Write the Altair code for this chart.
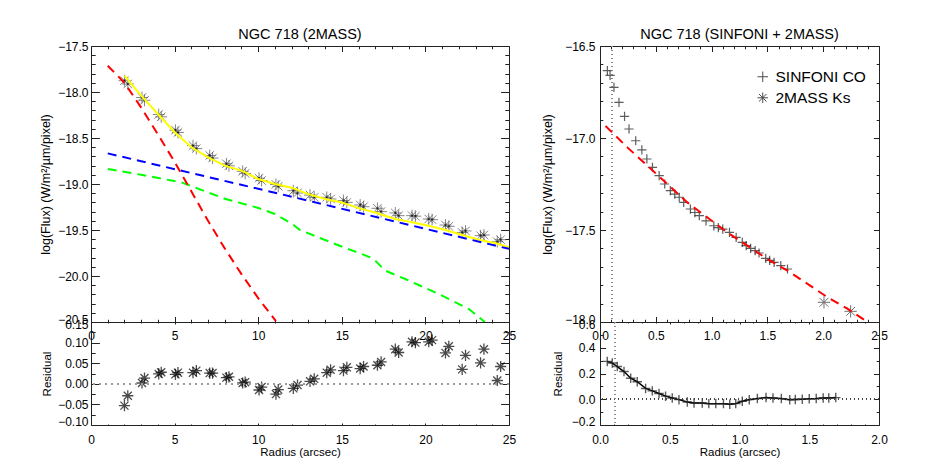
import altair as alt
import pandas as pd

FONT = "Liberation Sans"
INK = "#222222"

# ---------------- Left panel: NGC 718 (2MASS) ----------------
ks_r = [2.0, 2.2, 3.05, 3.2, 4.05, 4.2, 5.05, 5.2, 6.1, 6.3, 7.1, 7.27, 8.1, 8.25,
        9.07, 9.22, 10.05, 10.2, 11.06, 11.2, 12.1, 12.35, 13.1, 13.35, 14.1, 14.33,
        15.1, 15.3, 16.1, 16.3, 17.13, 17.35, 18.2, 18.4, 19.2, 19.4, 20.2, 20.4,
        21.2, 21.4, 22.2, 22.4, 23.3, 23.5, 24.3, 24.5]
ks_logf = [-17.877, -17.913, -18.06, -18.09, -18.245, -18.27, -18.415, -18.44,
           -18.583, -18.615, -18.69, -18.718, -18.78, -18.803, -18.862, -18.885,
           -18.937, -18.962, -19.005, -19.025, -19.073, -19.098, -19.12, -19.145,
           -19.145, -19.163, -19.18, -19.2, -19.228, -19.247, -19.264, -19.30,
           -19.315, -19.344, -19.344, -19.35, -19.38, -19.388, -19.446, -19.46,
           -19.527, -19.51, -19.562, -19.554, -19.627, -19.605]
ks_resid = [-0.053, -0.029, 0.002, 0.014, 0.024, 0.028, 0.023, 0.027, 0.027, 0.032,
            0.026, 0.026, 0.015, 0.017, 0.002, 0.004, -0.015, -0.008, -0.025, -0.014,
            -0.011, -0.003, 0.006, 0.012, 0.027, 0.034, 0.032, 0.040, 0.037, 0.042,
            0.045, 0.053, 0.084, 0.076, 0.102, 0.100, 0.102, 0.106, 0.075, 0.091,
            0.035, 0.069, 0.051, 0.084, 0.008, 0.042]

tot_r = [2.0, 3.0, 4.0, 5.0, 6.0, 7.0, 8.0, 9.0, 10.0, 11.0, 12.0, 13.0, 14.0, 15.0,
         16.0, 17.0, 17.4, 18.2, 19.2, 20.2, 21.2, 22.2, 23.2, 24.2, 25.0]
tot_v = [-17.823, -18.04, -18.239, -18.438, -18.601, -18.71, -18.80, -18.855, -18.946,
         -19.0, -19.04, -19.11, -19.163, -19.2, -19.262, -19.31, -19.335, -19.38,
         -19.416, -19.453, -19.5, -19.554, -19.605, -19.645, -19.688]

bul_r = [1.0, 2.0, 3.0, 4.0, 5.0, 6.0, 7.0, 8.0, 9.0, 10.0, 11.06]
bul_v = [-17.714, -17.90, -18.17, -18.46, -18.76, -19.08, -19.40, -19.70, -19.98,
         -20.24, -20.49]

disk_r = [1.0, 12.0, 25.0]
disk_v = [-18.667, -19.138, -19.705]

bar_r = [1.0, 3.0, 5.4, 8.0, 10.0, 11.0, 12.0, 12.5, 14.6, 16.7, 17.0, 17.6, 18.8,
         20.8, 22.6, 23.55]
bar_v = [-18.837, -18.90, -18.982, -19.16, -19.26, -19.326, -19.43, -19.50, -19.652,
         -19.797, -19.833, -19.942, -20.033, -20.196, -20.359, -20.50]

# ---------------- Right panel: NGC 718 (SINFONI + 2MASS) ----------------
sin_r = [0.066, 0.09, 0.125, 0.17, 0.22, 0.26, 0.32, 0.375, 0.42, 0.47, 0.53, 0.58,
         0.63, 0.67, 0.71, 0.75, 0.81, 0.85, 0.89, 0.95, 1.02, 1.06, 1.10, 1.16, 1.22,
         1.275, 1.31, 1.35, 1.39, 1.425, 1.485, 1.52, 1.56, 1.62, 1.68]
sin_v = [-16.634, -16.66, -16.725, -16.806, -16.882, -16.951, -17.015, -17.065,
         -17.114, -17.16, -17.205, -17.25, -17.286, -17.305, -17.322, -17.35, -17.386,
         -17.405, -17.422, -17.45, -17.477, -17.487, -17.495, -17.513, -17.54, -17.567,
         -17.585, -17.60, -17.612, -17.625, -17.654, -17.665, -17.676, -17.694, -17.712]

tm_r = [2.007, 2.246]
tm_v = [-17.893, -17.942]

mod_r = [0.05, 0.245, 0.424, 0.603, 0.782, 0.96, 1.14, 1.32, 1.5, 1.68, 1.86, 2.04,
         2.22, 2.38]
mod_v = [-16.935, -17.051, -17.15, -17.25, -17.35, -17.431, -17.513, -17.585, -17.658,
         -17.721, -17.793, -17.866, -17.929, -17.993]

res_r = [0.052, 0.088, 0.124, 0.172, 0.22, 0.267, 0.327, 0.375, 0.423, 0.47, 0.518,
         0.566, 0.626, 0.674, 0.733, 0.78, 0.83, 0.885, 0.93, 0.973, 1.02, 1.07, 1.128,
         1.19, 1.24, 1.30, 1.36, 1.40, 1.45, 1.50, 1.55, 1.60, 1.64, 1.69]
res_v = [0.294, 0.281, 0.254, 0.215, 0.163, 0.136, 0.084, 0.065, 0.045, 0.024, 0.010,
         -0.003, -0.021, -0.029, -0.029, -0.034, -0.034, -0.034, -0.039, -0.034, -0.016,
         -0.003, 0.005, 0.013, 0.010, 0.005, -0.003, -0.002, 0.0, 0.003, 0.005, 0.010,
         0.010, 0.013]

seeing_r = 0.11
zero_level = 0.0
series_names = ["SINFONI CO", "2MASS Ks"]

# axis ranges
left_x = [0, 25]
left_y = [-20.5, -17.5]
left_res_y = [-0.10, 0.15]
right_x = [0, 2.5]
right_y = [-18.0, -16.5]
right_res_x = [0, 2.0]
right_res_y = [-0.2, 0.6]

PLUS = "M-1,0L1,0M0,-1L0,1"
AST = "M-1,0L1,0M0,-1L0,1M-0.72,-0.72L0.72,0.72M-0.72,0.72L0.72,-0.72"

YTITLE = "log(Flux) (W/m\u00b2/\u00b5m/pixel)"


def tick_values(lo, hi, step):
    n = int(round((hi - lo) / step))
    return [round(lo + i * step, 6) for i in range(n + 1)]


def make_axis(orient, dom, major, minor, length, fmt=".1f", labels=True, title=None,
              title_size=12, title_pad=6, label_gap=3, end_shift=None):
    k = round(1.0 / major, 6)
    test = f"abs(datum.value * {k} - round(datum.value * {k})) < 0.000001"
    kw = dict(
        orient=orient,
        values=tick_values(dom[0], dom[1], minor),
        tickSize={"condition": {"test": test, "value": -length}, "value": -length / 2.0},
        tickColor=INK,
        tickWidth=1,
        domain=False,
        grid=False,
        labels=labels,
        title=title,
    )
    if labels:
        kw.update(
            format=fmt,
            labelExpr=f"{test} ? datum.label : ''",
            labelFlush=False,
            labelOverlap=False,
            labelFont=FONT,
            labelFontSize=12,
            labelColor="black",
            labelPadding=label_gap + length,
        )
        if end_shift:
            conds = []
            for val, px in zip(dom, end_shift):
                if px:
                    conds.append({"test": f"abs(datum.value - ({val})) < 0.000001",
                                  "value": px})
            if conds:
                kw["labelOffset"] = {"condition": conds, "value": 0}
    if title:
        kw.update(titleFont=FONT, titleFontSize=title_size, titleFontWeight="normal",
                  titleColor="black", titlePadding=title_pad)
    return alt.Axis(**kw)


def scale(dom):
    return alt.Scale(domain=dom, nice=False, zero=False)


def enc(xs, ys, xa=None, ya=None):
    return {"x": alt.X("r:Q", scale=xs, axis=xa), "y": alt.Y("v:Q", scale=ys, axis=ya)}


def title(text):
    return alt.Title(text, font=FONT, fontSize=14.5, fontWeight="normal", color="black",
                     offset=-2)


def dashed(r, v, color, xs, ys):
    return alt.Chart(pd.DataFrame({"r": r, "v": v})).mark_line(
        color=color, strokeDash=[9, 6], strokeWidth=2, clip=True).encode(**enc(xs, ys))


# ---------- left top ----------
df_ks = pd.DataFrame({"r": ks_r, "v": ks_logf})
xs, ys = scale(left_x), scale(left_y)
ax_x = make_axis("bottom", left_x, 5, 1, 5.5, fmt="d", label_gap=8.5)
ax_y = make_axis("left", left_y, 0.5, 0.1, 8.4, title=YTITLE, title_size=12.5,
                 title_pad=5, end_shift=(-3, 0))
ax_xm = make_axis("top", left_x, 5, 1, 5.5, labels=False)
ax_ym = make_axis("right", left_y, 0.5, 0.1, 8.4, labels=False)

lt = alt.layer(
    alt.Chart(df_ks).mark_point(shape=AST, size=140, color="#555555", strokeWidth=1,
                                filled=False, clip=True).encode(**enc(xs, ys, ax_x, ax_y)),
    alt.Chart(df_ks).mark_point(shape="circle", size=5, color="black", filled=True,
                                clip=True).encode(**enc(xs, ys)),
    alt.Chart(pd.DataFrame({"r": tot_r, "v": tot_v})).mark_line(
        color="#ffff00", strokeWidth=2, clip=True).encode(**enc(xs, ys)),
    dashed(disk_r, disk_v, "#0000ff", xs, ys),
    dashed(bar_r, bar_v, "#00ff00", xs, ys),
    dashed(bul_r, bul_v, "#ff0000", xs, ys),
    alt.Chart(df_ks).mark_point(opacity=0).encode(**enc(xs, ys, ax_xm, ax_ym)),
).resolve_axis(x="independent", y="independent").properties(
    width=418, height=276, title=title("NGC 718 (2MASS)"))

# ---------- left residual ----------
df_ksr = pd.DataFrame({"r": ks_r, "v": ks_resid})
xs, ys = scale(left_x), scale(left_res_y)
ax_x = make_axis("bottom", left_x, 5, 1, 2, fmt="d", label_gap=9,
                 title="Radius (arcsec)", title_size=11.5, title_pad=0)
ax_y = make_axis("left", left_res_y, 0.05, 0.025, 8.4, fmt=".2f", title="Residual",
                 title_size=11.5, title_pad=5, end_shift=(-3.5, 2.5))
ax_xm = make_axis("top", left_x, 5, 1, 2, labels=False)
ax_ym = make_axis("right", left_res_y, 0.05, 0.025, 8.4, labels=False)

lr = alt.layer(
    alt.Chart(df_ksr).mark_point(shape=AST, size=125, color="black", strokeWidth=1.3,
                                 filled=False, clip=True).encode(**enc(xs, ys, ax_x, ax_y)),
    alt.Chart(df_ksr).mark_rule(color="#999999", strokeDash=[2, 4], strokeWidth=1).encode(
        y=alt.YDatum(zero_level, scale=ys, axis=None)),
    alt.Chart(df_ksr).mark_point(opacity=0).encode(**enc(xs, ys, ax_xm, ax_ym)),
).resolve_axis(x="independent", y="independent").properties(width=418, height=103)

# ---------- right top ----------
df_sin = pd.DataFrame({"r": sin_r, "v": sin_v, "s": series_names[0]})
df_tm = pd.DataFrame({"r": tm_r, "v": tm_v, "s": series_names[1]})
xs, ys = scale(right_x), scale(right_y)
ax_x = make_axis("bottom", right_x, 0.5, 0.1, 5.5, label_gap=8.5)
ax_y = make_axis("left", right_y, 0.5, 0.1, 5.6, title=YTITLE, title_size=12.5,
                 title_pad=10, label_gap=5, end_shift=(-3, 0))
ax_xm = make_axis("top", right_x, 0.5, 0.1, 5.5, labels=False)
ax_ym = make_axis("right", right_y, 0.5, 0.1, 5.6, labels=False)

shape_scale = alt.Scale(domain=series_names, range=[PLUS, AST])
legend = alt.Legend(title=None, orient="none", legendX=155, legendY=23, padding=0,
                    labelFont=FONT, labelFontSize=15.5, labelColor="black",
                    labelOffset=5, rowPadding=4, symbolSize=110,
                    symbolStrokeColor="black", symbolStrokeWidth=1,
                    symbolFillColor="white")

rt = alt.layer(
    alt.Chart(df_sin).mark_point(size=85, color="#1a1a1a", strokeWidth=1.2, filled=False,
                                 clip=True).encode(
        **enc(xs, ys, ax_x, ax_y), shape=alt.Shape("s:N", scale=shape_scale, legend=legend)),
    alt.Chart(df_tm).mark_point(size=150, color="#333333", strokeWidth=1, filled=False,
                                clip=True).encode(
        **enc(xs, ys), shape=alt.Shape("s:N", scale=shape_scale, legend=legend)),
    alt.Chart(df_sin).mark_rule(color="#888888", strokeDash=[1, 3], strokeWidth=1).encode(
        x=alt.XDatum(seeing_r, scale=xs, axis=None)),
    dashed(mod_r, mod_v, "#ff0000", xs, ys),
    alt.Chart(df_sin).mark_point(opacity=0).encode(**enc(xs, ys, ax_xm, ax_ym)),
).resolve_axis(x="independent", y="independent").properties(
    width=279, height=276, title=title("NGC 718 (SINFONI + 2MASS)"))

# ---------- right residual ----------
df_res = pd.DataFrame({"r": res_r, "v": res_v})
xs, ys = scale(right_res_x), scale(right_res_y)
ax_x = make_axis("bottom", right_res_x, 0.5, 0.1, 2, label_gap=9,
                 title="Radius (arcsec)", title_size=11.5, title_pad=0)
ax_y = make_axis("left", right_res_y, 0.2, 0.1, 5.6, title="Residual", title_size=11.5,
                 title_pad=8, label_gap=5, end_shift=(-3.5, 2.5))
ax_xm = make_axis("top", right_res_x, 0.5, 0.1, 2, labels=False)
ax_ym = make_axis("right", right_res_y, 0.2, 0.1, 5.6, labels=False)

rr = alt.layer(
    alt.Chart(df_res).mark_line(color="black", strokeWidth=1.5, clip=True).encode(
        **enc(xs, ys, ax_x, ax_y)),
    alt.Chart(df_res).mark_point(shape=PLUS, size=90, color="#1a1a1a", strokeWidth=1.4,
                                 filled=False, clip=True).encode(**enc(xs, ys)),
    alt.Chart(df_res).mark_rule(color="#444444", strokeDash=[1, 3], strokeWidth=1).encode(
        y=alt.YDatum(zero_level, scale=ys, axis=None)),
    alt.Chart(df_res).mark_rule(color="#888888", strokeDash=[1, 3], strokeWidth=1).encode(
        x=alt.XDatum(seeing_r, scale=xs, axis=None)),
    alt.Chart(df_res).mark_point(opacity=0).encode(**enc(xs, ys, ax_xm, ax_ym)),
).resolve_axis(x="independent", y="independent").properties(width=279, height=103)

chart = alt.concat(
    lt, rt, lr, rr, columns=2, spacing={"row": 0, "column": 91}, bounds="flush",
    align="each",
).resolve_scale(shape="independent").properties(
    padding={"left": 31, "top": 18, "right": 5, "bottom": 5}, background="white",
).configure_view(stroke=INK, strokeWidth=1)

chart.save("out.html", embed_options={"renderer": "svg", "actions": False})
